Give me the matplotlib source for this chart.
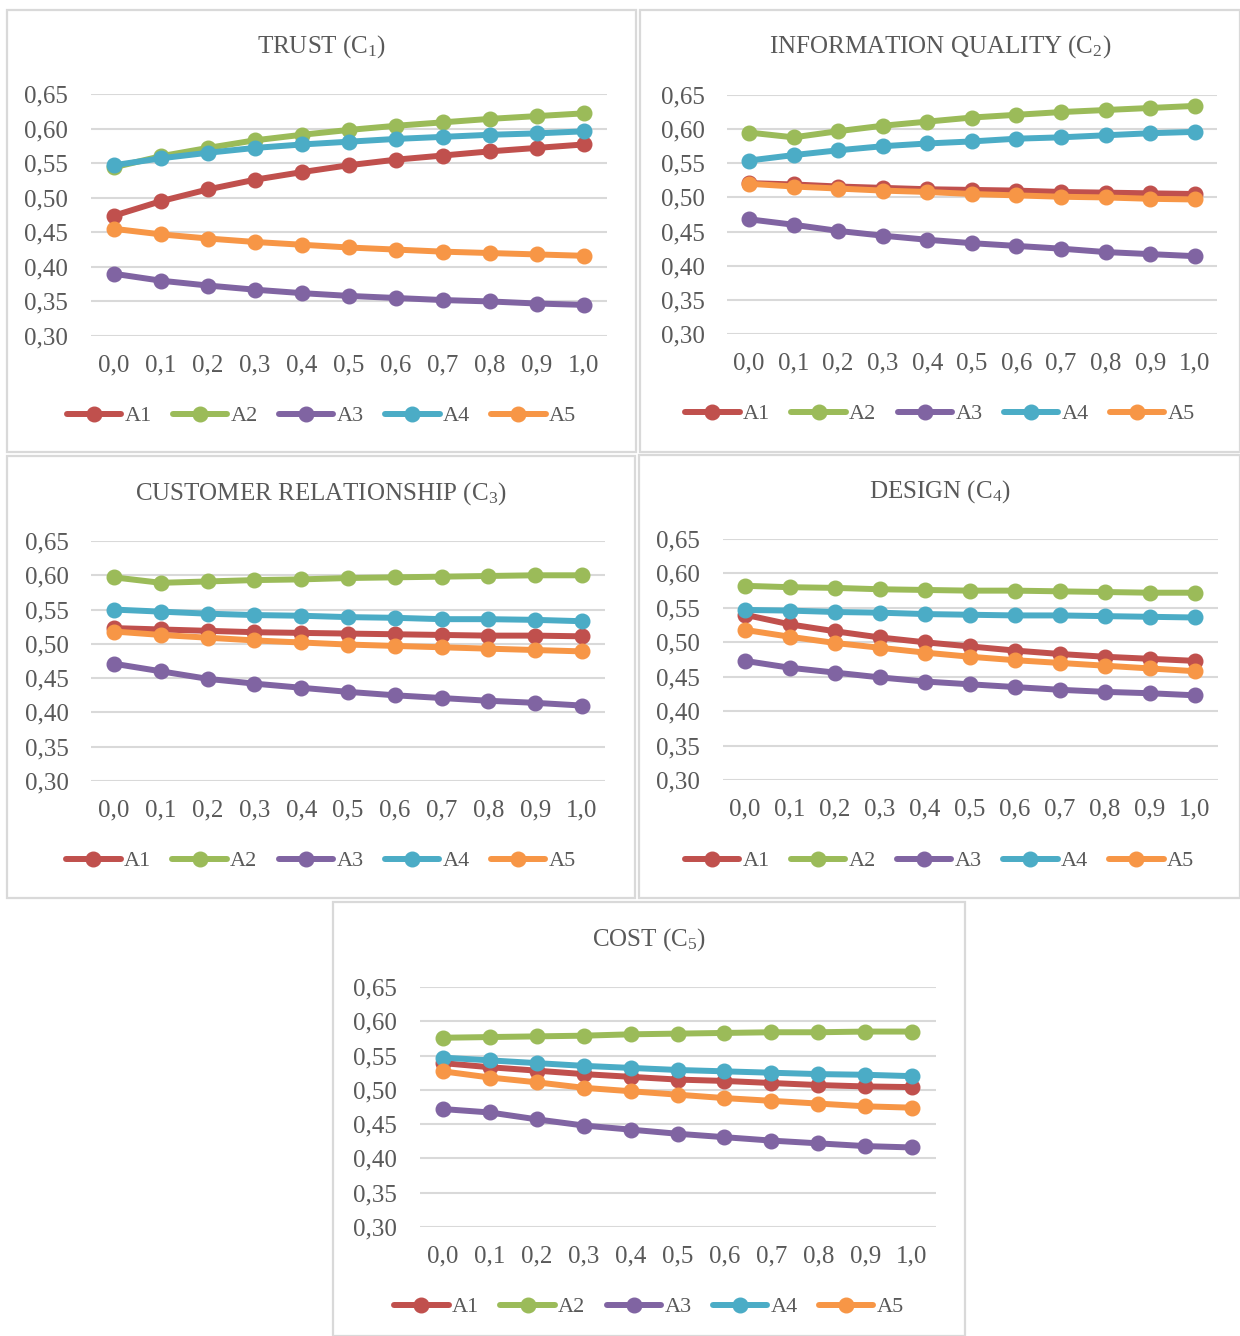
import matplotlib
matplotlib.use("Agg")
import matplotlib.pyplot as plt
from matplotlib.patches import Rectangle

plt.rcParams["font.family"] = ["Liberation Serif", "DejaVu Serif"]
plt.rcParams["mathtext.fontset"] = "custom"
plt.rcParams["mathtext.rm"] = "Liberation Serif"
plt.rcParams["mathtext.it"] = "Liberation Serif"

# Weight parameter on the x axis
lambdas = [0.0, 0.1, 0.2, 0.3, 0.4, 0.5, 0.6, 0.7, 0.8, 0.9, 1.0]
x_labels = ["0,0", "0,1", "0,2", "0,3", "0,4", "0,5", "0,6", "0,7", "0,8", "0,9", "1,0"]
alternatives = ["A1", "A2", "A3", "A4", "A5"]
colors = ["#C0504D", "#9BBB59", "#8064A2", "#4BACC6", "#F79646"]

# Trust (C1)
trust_a1 = [0.474, 0.495, 0.512, 0.526, 0.537, 0.547, 0.555, 0.561, 0.567, 0.572, 0.577]
trust_a2 = [0.544, 0.560, 0.572, 0.583, 0.591, 0.598, 0.604, 0.609, 0.614, 0.618, 0.622]
trust_a3 = [0.390, 0.380, 0.373, 0.367, 0.362, 0.358, 0.355, 0.352, 0.350, 0.347, 0.345]
trust_a4 = [0.547, 0.557, 0.565, 0.572, 0.577, 0.581, 0.585, 0.588, 0.591, 0.593, 0.596]
trust_a5 = [0.455, 0.447, 0.441, 0.436, 0.432, 0.428, 0.425, 0.422, 0.420, 0.418, 0.416]

# Information quality (C2)
info_a1 = [0.521, 0.519, 0.516, 0.514, 0.512, 0.511, 0.510, 0.508, 0.507, 0.506, 0.505]
info_a2 = [0.595, 0.588, 0.597, 0.605, 0.611, 0.617, 0.621, 0.625, 0.628, 0.631, 0.634]
info_a3 = [0.468, 0.460, 0.451, 0.444, 0.438, 0.433, 0.429, 0.425, 0.420, 0.417, 0.414]
info_a4 = [0.554, 0.562, 0.569, 0.575, 0.579, 0.582, 0.586, 0.588, 0.591, 0.594, 0.596]
info_a5 = [0.520, 0.516, 0.513, 0.510, 0.508, 0.505, 0.503, 0.501, 0.500, 0.498, 0.497]

# Customer relationship (C3)
cust_a1 = [0.523, 0.521, 0.519, 0.517, 0.516, 0.515, 0.514, 0.513, 0.512, 0.512, 0.511]
cust_a2 = [0.597, 0.589, 0.591, 0.593, 0.594, 0.596, 0.597, 0.598, 0.599, 0.600, 0.600]
cust_a3 = [0.471, 0.460, 0.449, 0.442, 0.436, 0.430, 0.425, 0.421, 0.417, 0.414, 0.410]
cust_a4 = [0.550, 0.547, 0.544, 0.542, 0.541, 0.539, 0.538, 0.536, 0.536, 0.535, 0.533]
cust_a5 = [0.518, 0.513, 0.509, 0.505, 0.502, 0.499, 0.497, 0.495, 0.493, 0.491, 0.489]

# Design (C4)
design_a1 = [0.540, 0.526, 0.516, 0.507, 0.500, 0.494, 0.488, 0.483, 0.479, 0.476, 0.473]
design_a2 = [0.582, 0.580, 0.579, 0.577, 0.576, 0.575, 0.575, 0.574, 0.573, 0.572, 0.572]
design_a3 = [0.473, 0.463, 0.456, 0.449, 0.443, 0.439, 0.435, 0.431, 0.428, 0.426, 0.423]
design_a4 = [0.547, 0.546, 0.544, 0.543, 0.541, 0.540, 0.539, 0.539, 0.538, 0.537, 0.536]
design_a5 = [0.518, 0.508, 0.499, 0.492, 0.485, 0.479, 0.474, 0.470, 0.466, 0.462, 0.458]

# Cost (C5)
cost_a1 = [0.539, 0.533, 0.528, 0.523, 0.519, 0.515, 0.513, 0.510, 0.507, 0.505, 0.504]
cost_a2 = [0.576, 0.577, 0.578, 0.579, 0.581, 0.582, 0.583, 0.584, 0.584, 0.585, 0.585]
cost_a3 = [0.472, 0.467, 0.457, 0.448, 0.442, 0.436, 0.431, 0.426, 0.422, 0.418, 0.416]
cost_a4 = [0.547, 0.543, 0.539, 0.535, 0.532, 0.529, 0.527, 0.525, 0.523, 0.522, 0.520]
cost_a5 = [0.527, 0.518, 0.511, 0.503, 0.498, 0.493, 0.488, 0.484, 0.480, 0.476, 0.474]

y_ticks = [0.30, 0.35, 0.40, 0.45, 0.50, 0.55, 0.60, 0.65]
y_labels = ["0,30", "0,35", "0,40", "0,45", "0,50", "0,55", "0,60", "0,65"]

W, H = 1240, 1336
fig = plt.figure(figsize=(W / 100, H / 100), dpi=100)
text_color = "#595959"


def fx(px):
    return px / W


def fy(py):
    return 1 - py / H


def draw_panel(box, plot, title, title_y, legend_y, series):
    # box: border in pixels (x0, y0, x1, y1); plot: axes area in pixels
    bx0, by0, bx1, by1 = box
    fig.patches.append(Rectangle((fx(bx0), fy(by1)), fx(bx1 - bx0), (by1 - by0) / H,
                                 transform=fig.transFigure, fill=False,
                                 edgecolor="#D9D9D9", linewidth=1.6))
    px0, py0, px1, py1 = plot
    ax = fig.add_axes([fx(px0), fy(py1), fx(px1 - px0), (py1 - py0) / H])
    for values, name, color in zip(series, alternatives, colors):
        ax.plot(lambdas, values, color=color, linewidth=4.3, marker="o",
                markersize=10.5, label=name, solid_capstyle="round")
    ax.set_xlim(-0.05, 1.05)
    ax.set_ylim(0.30, 0.65)
    ax.set_yticks(y_ticks)
    ax.set_yticklabels(y_labels)
    ax.set_xticks(lambdas)
    ax.set_xticklabels(x_labels)
    ax.grid(axis="y", color="#D9D9D9", linewidth=1.5)
    ax.set_axisbelow(True)
    for s in ax.spines.values():
        s.set_visible(False)
    ax.tick_params(length=0, labelsize=18, colors=text_color)
    ax.tick_params(axis="y", pad=16)
    ax.tick_params(axis="x", pad=13)
    cx = (bx0 + bx1) / 2
    fig.text(fx(cx), fy(title_y), title, ha="center", va="center",
             fontsize=18, color=text_color)
    leg = ax.legend(loc="center", bbox_to_anchor=(fx(cx), fy(legend_y)),
                    bbox_transform=fig.transFigure, ncol=5, frameon=False,
                    fontsize=16, handlelength=2.45, handletextpad=0.15,
                    columnspacing=0.95, borderpad=0)
    for t in leg.get_texts():
        t.set_color(text_color)


draw_panel((7, 10, 636, 452), (90.5, 94, 607, 336), "TRUST (C$_1$)", 47, 416,
           [trust_a1, trust_a2, trust_a3, trust_a4, trust_a5])
draw_panel((640, 10, 1240, 452), (726.7, 95, 1217, 334), "INFORMATION QUALITY (C$_2$)", 47, 414,
           [info_a1, info_a2, info_a3, info_a4, info_a5])
draw_panel((7, 456, 635, 898), (90.6, 541, 605.4, 781), "CUSTOMER RELATIONSHIP (C$_3$)", 494, 861,
           [cust_a1, cust_a2, cust_a3, cust_a4, cust_a5])
draw_panel((639, 455, 1240, 898), (722.5, 539, 1217.5, 780), "DESIGN (C$_4$)", 492, 861,
           [design_a1, design_a2, design_a3, design_a4, design_a5])
draw_panel((333, 902, 965, 1336), (419.5, 987, 935.5, 1227), "COST (C$_5$)", 940, 1307,
           [cost_a1, cost_a2, cost_a3, cost_a4, cost_a5])

fig.savefig("out.png", dpi=100)
